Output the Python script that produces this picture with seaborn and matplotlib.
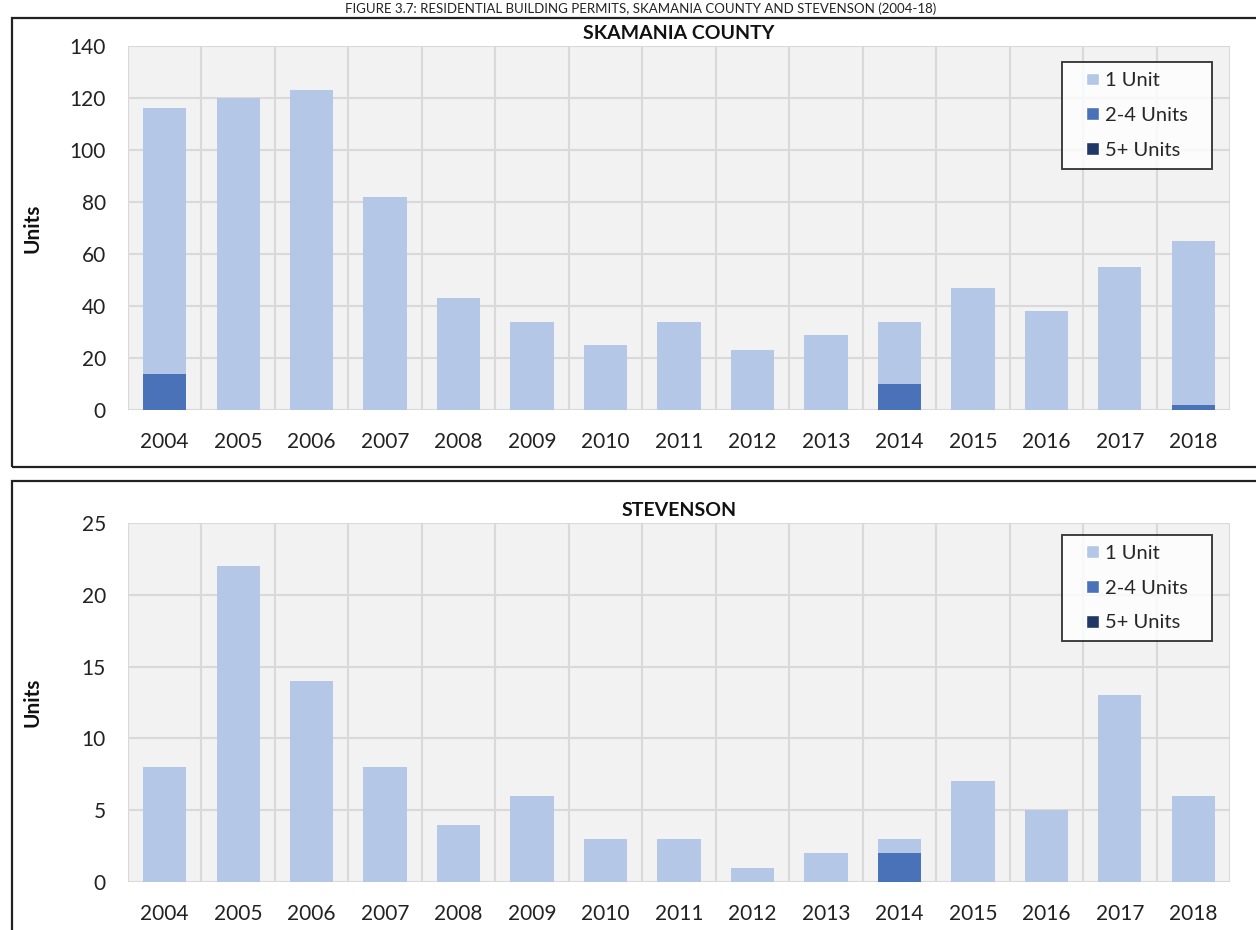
import numpy as np
import pandas as pd
import matplotlib
matplotlib.use("Agg")
import matplotlib.pyplot as plt
from matplotlib.patches import Rectangle, Patch
from matplotlib.legend_handler import HandlerPatch
import seaborn as sns

# Data
years = [str(y) for y in range(2004, 2019)]

skamania_1unit = [102, 120, 123, 82, 43, 34, 25, 34, 23, 29, 24, 47, 38, 55, 63]
skamania_2to4 = [14, 0, 0, 0, 0, 0, 0, 0, 0, 0, 10, 0, 0, 0, 2]
skamania_5plus = [0] * 15

stevenson_1unit = [8, 22, 14, 8, 4, 6, 3, 3, 1, 2, 1, 7, 5, 13, 6]
stevenson_2to4 = [0, 0, 0, 0, 0, 0, 0, 0, 0, 0, 2, 0, 0, 0, 0]
stevenson_5plus = [0] * 15

series_names = ["1 Unit", "2-4 Units", "5+ Units"]
colors = ["#B4C7E7", "#4A72B8", "#1F3864"]

sns.set_theme(style="white")
plt.rcParams["font.family"] = ["Lato", "DejaVu Sans"]

fig = plt.figure(figsize=(12.56, 9.3), dpi=100)

# Chart borders like an Excel chart frame
for top, bottom in [(18, 467), (481, 940)]:
    fig.patches.append(Rectangle((12 / 1256, 1 - bottom / 930), 1.0,
                                 (bottom - top) / 930, transform=fig.transFigure,
                                 fill=False, edgecolor="#222222", linewidth=1.6))

fig.text(0.51, 1 - 9 / 930,
         "FIGURE 3.7: RESIDENTIAL BUILDING PERMITS, SKAMANIA COUNTY AND STEVENSON (2004-18)",
         ha="center", va="center", fontsize=9.5, color="#222222")


def square_patch(legend, orig_handle, xdescent, ydescent, width, height, fontsize):
    # small square pushed to the right end of the handle box (Excel style)
    return Rectangle((-xdescent + width - height, -ydescent), height, height)


def draw_panel(ax, title, one, two, five, ymax, ystep, leg_top):
    df = pd.DataFrame({"Year": years, "one": one, "two": two, "five": five})
    # layered stacking: total first, then the lower segments on top of it
    df["total"] = df["one"] + df["two"] + df["five"]
    df["lower"] = df["two"] + df["five"]
    for col, c, z in [("total", colors[0], 3), ("lower", colors[1], 4), ("five", colors[2], 5)]:
        sns.barplot(data=df, x="Year", y=col, color=c, width=0.59, saturation=1,
                    linewidth=0, edgecolor="none", ax=ax, zorder=z)

    ax.set_facecolor("#F2F2F2")
    ax.set_xlim(-0.5, len(years) - 0.5)
    ax.set_ylim(0, ymax)
    ax.set_yticks(np.arange(0, ymax + 1, ystep))
    ax.set_xticks(np.arange(-0.5, len(years), 1), minor=True)
    ax.grid(True, axis="y", which="major", color="#D9D9D9", linewidth=1.5, zorder=1)
    ax.grid(True, axis="x", which="minor", color="#D9D9D9", linewidth=1.5, zorder=1)
    ax.grid(False, axis="x", which="major")
    ax.set_axisbelow(True)
    for s in ax.spines.values():
        s.set_visible(False)
    ax.tick_params(axis="both", which="both", length=0)
    ax.tick_params(axis="x", pad=16, labelsize=15, colors="#222222")
    ax.tick_params(axis="y", pad=16, labelsize=15, colors="#222222")
    ax.set_xlabel("")
    ax.set_ylabel("Units", fontsize=15, fontweight="bold", color="#111111")
    ax.yaxis.set_label_coords(-0.078, 0.5)
    ax.set_title(title, fontsize=14, fontweight="bold", pad=5, color="#111111")

    handles = [Patch(facecolor=c, label=n) for c, n in zip(colors, series_names)]
    leg_w = 150 / 1102
    leg_x0 = (1062 - 128) / 1102
    leg = ax.legend(handles=handles, loc="upper left",
                    bbox_to_anchor=(leg_x0, leg_top - 0.01, leg_w, 0.01), mode="expand",
                    fontsize=14.5, frameon=True, fancybox=False,
                    handler_map={Patch: HandlerPatch(patch_func=square_patch)},
                    handlelength=1.35, handleheight=0.6, handletextpad=0.3,
                    borderpad=0.5, labelspacing=0.88, borderaxespad=0)
    leg.get_frame().set_edgecolor("#111111")
    leg.get_frame().set_linewidth(1.4)
    leg.get_frame().set_facecolor("white")
    leg.set_zorder(10)


ax1 = fig.add_axes([128 / 1256, 1 - 410 / 930, 1102 / 1256, 364 / 930])
draw_panel(ax1, "SKAMANIA COUNTY", skamania_1unit, skamania_2to4, skamania_5plus,
           140, 20, 0.956)

ax2 = fig.add_axes([128 / 1256, 1 - 882 / 930, 1102 / 1256, 359 / 930])
draw_panel(ax2, "STEVENSON", stevenson_1unit, stevenson_2to4, stevenson_5plus,
           25, 5, 0.967)

fig.savefig("out.png", dpi=100)
